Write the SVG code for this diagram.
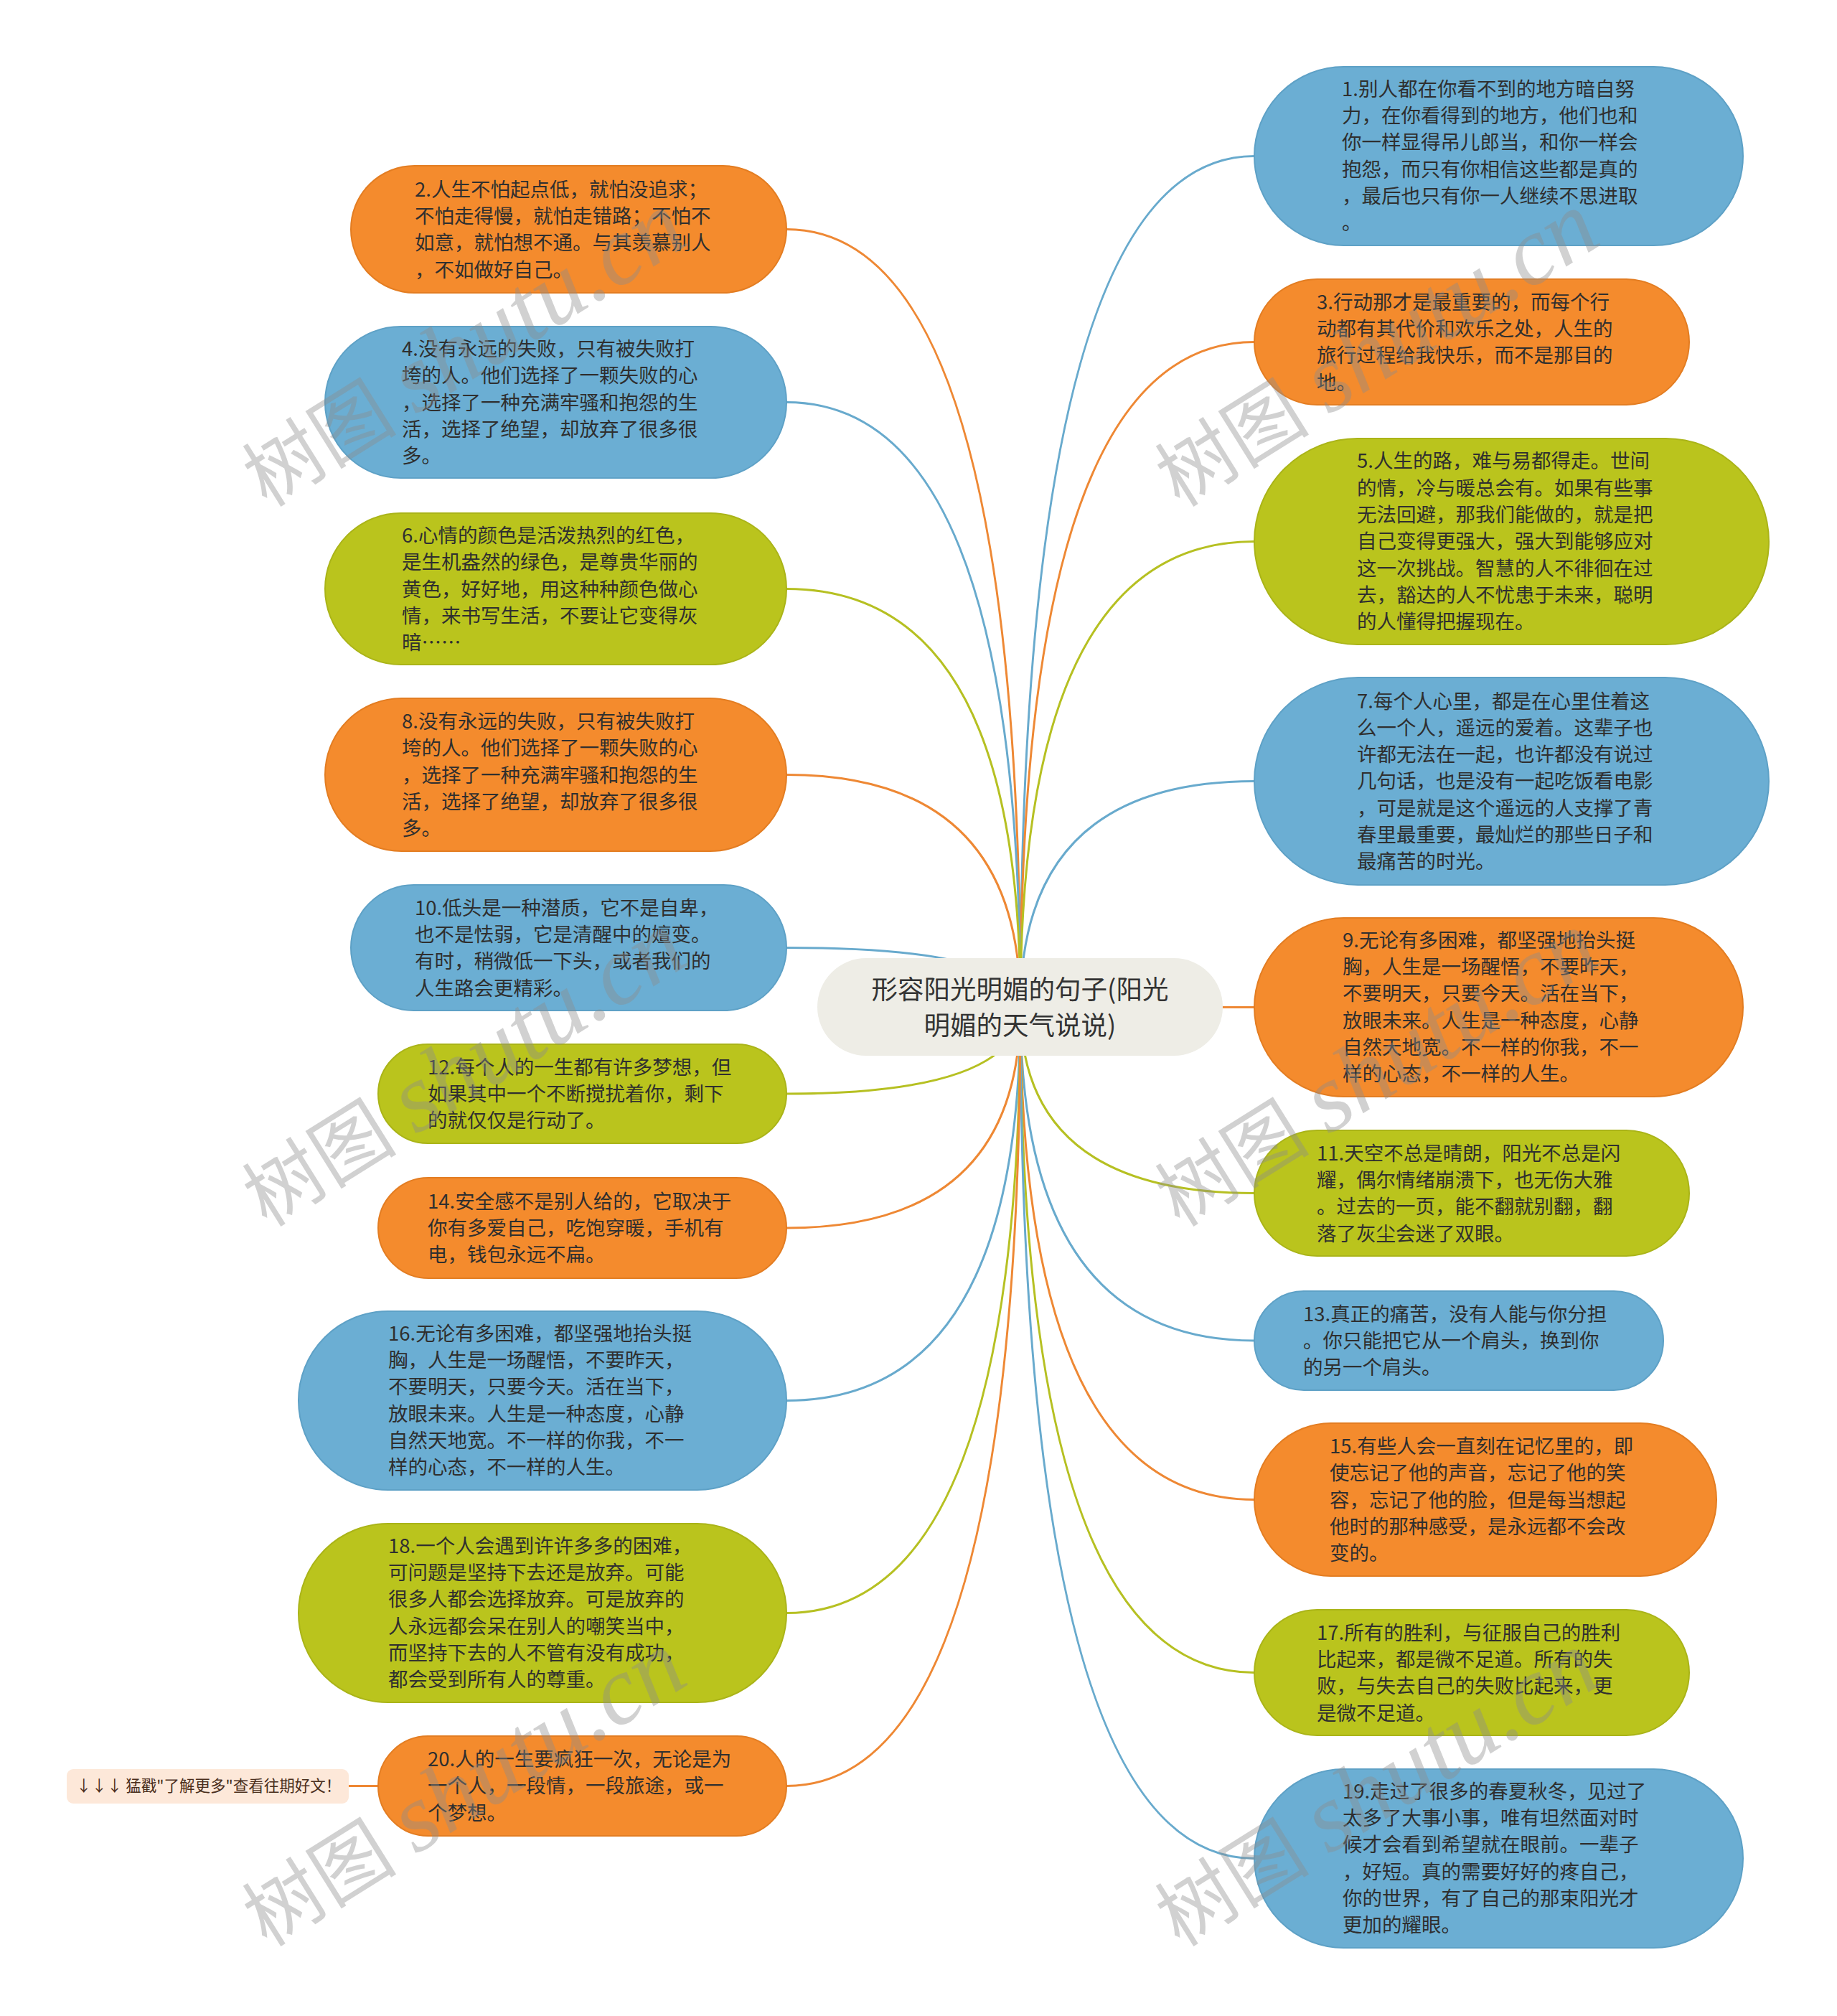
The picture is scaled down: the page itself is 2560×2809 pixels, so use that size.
<svg xmlns="http://www.w3.org/2000/svg" width="2560" height="2809" viewBox="0 0 2560 2809">
<style>
  .t { font-family: "Noto Sans CJK SC", "Noto Sans", sans-serif; font-size: 27.5px; fill: #2f2f2f; }
  .ct { font-family: "Noto Sans CJK SC", "Noto Sans", sans-serif; font-size: 36.5px; fill: #333333; text-anchor: middle; }
  .tag { font-family: "Noto Sans CJK SC", "Noto Sans", sans-serif; font-size: 21.5px; fill: #4a2e1c; }
  .o { fill: #F48B2D; stroke: #E37D22; stroke-width: 2; }
  .b { fill: #6BAED3; stroke: #5EA1C6; stroke-width: 2; }
  .g { fill: #BAC41D; stroke: #AAB418; stroke-width: 2; }
  .lo { fill: none; stroke: #EE8834; stroke-width: 3; }
  .lb { fill: none; stroke: #68AACD; stroke-width: 3; }
  .lg { fill: none; stroke: #B6C022; stroke-width: 3; }
  .wm1 { font-family: "Noto Sans CJK SC", sans-serif; font-size: 108px; }
  .wm2 { font-family: "Liberation Serif", serif; font-style: italic; font-size: 135px; }
</style>
<defs>
  <g id="wm" fill="#8c8c8c" fill-opacity="0.4">
    <text class="wm1" x="0" y="0">树图<tspan class="wm2" dx="28">shutu.cn</tspan></text>
  </g>
</defs>
<rect x="0" y="0" width="2560" height="2809" fill="#ffffff"/>

<g id="connectors">
  <path class="lb" d="M1422 1403 Q1422 217.5 1748 217.5"/>
  <path class="lo" d="M1422 1403 Q1422 319.5 1096 319.5"/>
  <path class="lo" d="M1422 1403 Q1422 476.5 1748 476.5"/>
  <path class="lb" d="M1422 1403 Q1422 560.5 1096 560.5"/>
  <path class="lg" d="M1422 1403 Q1422 754.5 1748 754.5"/>
  <path class="lg" d="M1422 1403 Q1422 820.5 1096 820.5"/>
  <path class="lb" d="M1422 1403 Q1422 1088.5 1748 1088.5"/>
  <path class="lo" d="M1422 1403 Q1422 1079.5 1096 1079.5"/>
  <path class="lo" d="M1422 1403 Q1422 1403.5 1748 1403.5"/>
  <path class="lb" d="M1422 1403 Q1422 1320.5 1096 1320.5"/>
  <path class="lg" d="M1422 1403 Q1422 1662.5 1748 1662.5"/>
  <path class="lg" d="M1422 1403 Q1422 1524 1096 1524"/>
  <path class="lb" d="M1422 1403 Q1422 1868 1748 1868"/>
  <path class="lo" d="M1422 1403 Q1422 1711 1096 1711"/>
  <path class="lo" d="M1422 1403 Q1422 2089.5 1748 2089.5"/>
  <path class="lb" d="M1422 1403 Q1422 1951.5 1096 1951.5"/>
  <path class="lg" d="M1422 1403 Q1422 2330.5 1748 2330.5"/>
  <path class="lg" d="M1422 1403 Q1422 2247.5 1096 2247.5"/>
  <path class="lb" d="M1422 1403 Q1422 2589.5 1748 2589.5"/>
  <path class="lo" d="M1422 1403 Q1422 2488.5 1096 2488.5"/>
  <path class="lo" d="M486 2488.5 L527 2488.5"/>
</g>

<g id="center">
  <rect x="1139" y="1335" width="565" height="136" rx="68" fill="#EEEDE6"/>
  <text class="ct" x="1421.5" y="1392">形容阳光明媚的句子(阳光</text>
  <text class="ct" x="1421.5" y="1442">明媚的天气说说)</text>
</g>

<g id="n1">
  <rect class="b" x="1748" y="93" width="681" height="249" rx="124.5"/>
  <text class="t" x="1870"><tspan x="1870" y="134">1.别人都在你看不到的地方暗自努</tspan><tspan x="1870" y="171">力，在你看得到的地方，他们也和</tspan><tspan x="1870" y="208">你一样显得吊儿郎当，和你一样会</tspan><tspan x="1870" y="246">抱怨，而只有你相信这些都是真的</tspan><tspan x="1870" y="283">，最后也只有你一人继续不思进取</tspan><tspan x="1870" y="320">。</tspan></text>
</g>
<g id="n2">
  <rect class="o" x="489" y="231" width="607" height="177" rx="88.5"/>
  <text class="t"><tspan x="578" y="274">2.人生不怕起点低，就怕没追求；</tspan><tspan x="578" y="311">不怕走得慢，就怕走错路；不怕不</tspan><tspan x="578" y="348">如意，就怕想不通。与其羡慕别人</tspan><tspan x="578" y="386">，不如做好自己。</tspan></text>
</g>
<g id="n3">
  <rect class="o" x="1748" y="389" width="606" height="175" rx="87.5"/>
  <text class="t"><tspan x="1835" y="431">3.行动那才是最重要的，而每个行</tspan><tspan x="1835" y="468">动都有其代价和欢乐之处，人生的</tspan><tspan x="1835" y="505">旅行过程给我快乐，而不是那目的</tspan><tspan x="1835" y="543">地。</tspan></text>
</g>
<g id="n4">
  <rect class="b" x="453" y="455" width="643" height="211" rx="105.5"/>
  <text class="t"><tspan x="560" y="496">4.没有永远的失败，只有被失败打</tspan><tspan x="560" y="533">垮的人。他们选择了一颗失败的心</tspan><tspan x="560" y="571">，选择了一种充满牢骚和抱怨的生</tspan><tspan x="560" y="608">活，选择了绝望，却放弃了很多很</tspan><tspan x="560" y="645">多。</tspan></text>
</g>
<g id="n5">
  <rect class="g" x="1748" y="611" width="717" height="287" rx="143.5"/>
  <text class="t"><tspan x="1891" y="652">5.人生的路，难与易都得走。世间</tspan><tspan x="1891" y="690">的情，冷与暖总会有。如果有些事</tspan><tspan x="1891" y="727">无法回避，那我们能做的，就是把</tspan><tspan x="1891" y="764">自己变得更强大，强大到能够应对</tspan><tspan x="1891" y="802">这一次挑战。智慧的人不徘徊在过</tspan><tspan x="1891" y="839">去，豁达的人不忧患于未来，聪明</tspan><tspan x="1891" y="876">的人懂得把握现在。</tspan></text>
</g>
<g id="n6">
  <rect class="g" x="453" y="715" width="643" height="211" rx="105.5"/>
  <text class="t"><tspan x="560" y="756">6.心情的颜色是活泼热烈的红色，</tspan><tspan x="560" y="793">是生机盎然的绿色，是尊贵华丽的</tspan><tspan x="560" y="831">黄色，好好地，用这种种颜色做心</tspan><tspan x="560" y="868">情，来书写生活，不要让它变得灰</tspan><tspan x="560" y="905">暗……</tspan></text>
</g>
<g id="n7">
  <rect class="b" x="1748" y="944" width="717" height="289" rx="144.5"/>
  <text class="t"><tspan x="1891" y="987">7.每个人心里，都是在心里住着这</tspan><tspan x="1891" y="1024">么一个人，遥远的爱着。这辈子也</tspan><tspan x="1891" y="1061">许都无法在一起，也许都没有说过</tspan><tspan x="1891" y="1098">几句话，也是没有一起吃饭看电影</tspan><tspan x="1891" y="1136">，可是就是这个遥远的人支撑了青</tspan><tspan x="1891" y="1173">春里最重要，最灿烂的那些日子和</tspan><tspan x="1891" y="1210">最痛苦的时光。</tspan></text>
</g>
<g id="n8">
  <rect class="o" x="453" y="973" width="643" height="213" rx="106.5"/>
  <text class="t"><tspan x="560" y="1015">8.没有永远的失败，只有被失败打</tspan><tspan x="560" y="1052">垮的人。他们选择了一颗失败的心</tspan><tspan x="560" y="1090">，选择了一种充满牢骚和抱怨的生</tspan><tspan x="560" y="1127">活，选择了绝望，却放弃了很多很</tspan><tspan x="560" y="1164">多。</tspan></text>
</g>
<g id="n9">
  <rect class="o" x="1748" y="1279" width="681" height="249" rx="124.5"/>
  <text class="t"><tspan x="1871" y="1320">9.无论有多困难，都坚强地抬头挺</tspan><tspan x="1871" y="1357">胸，人生是一场醒悟，不要昨天，</tspan><tspan x="1871" y="1394">不要明天，只要今天。活在当下，</tspan><tspan x="1871" y="1432">放眼未来。人生是一种态度，心静</tspan><tspan x="1871" y="1469">自然天地宽。不一样的你我，不一</tspan><tspan x="1871" y="1506">样的心态，不一样的人生。</tspan></text>
</g>
<g id="n10">
  <rect class="b" x="489" y="1233" width="607" height="175" rx="87.5"/>
  <text class="t"><tspan x="578" y="1275">10.低头是一种潜质，它不是自卑，</tspan><tspan x="578" y="1312">也不是怯弱，它是清醒中的嬗变。</tspan><tspan x="578" y="1349">有时，稍微低一下头，或者我们的</tspan><tspan x="578" y="1387">人生路会更精彩。</tspan></text>
</g>
<g id="n11">
  <rect class="g" x="1748" y="1575" width="606" height="175" rx="87.5"/>
  <text class="t"><tspan x="1835" y="1617">11.天空不总是晴朗，阳光不总是闪</tspan><tspan x="1835" y="1654">耀，偶尔情绪崩溃下，也无伤大雅</tspan><tspan x="1835" y="1691">。过去的一页，能不翻就别翻，翻</tspan><tspan x="1835" y="1729">落了灰尘会迷了双眼。</tspan></text>
</g>
<g id="n12">
  <rect class="g" x="527" y="1455" width="569" height="138" rx="69"/>
  <text class="t"><tspan x="596" y="1497">12.每个人的一生都有许多梦想，但</tspan><tspan x="596" y="1534">如果其中一个不断搅扰着你，剩下</tspan><tspan x="596" y="1571">的就仅仅是行动了。</tspan></text>
</g>
<g id="n13">
  <rect class="b" x="1748" y="1799" width="570" height="138" rx="69"/>
  <text class="t"><tspan x="1816" y="1841">13.真正的痛苦，没有人能与你分担</tspan><tspan x="1816" y="1878">。你只能把它从一个肩头，换到你</tspan><tspan x="1816" y="1915">的另一个肩头。</tspan></text>
</g>
<g id="n14">
  <rect class="o" x="527" y="1641" width="569" height="140" rx="70"/>
  <text class="t"><tspan x="596" y="1684">14.安全感不是别人给的，它取决于</tspan><tspan x="596" y="1721">你有多爱自己，吃饱穿暖，手机有</tspan><tspan x="596" y="1758">电，钱包永远不扁。</tspan></text>
</g>
<g id="n15">
  <rect class="o" x="1748" y="1983" width="644" height="213" rx="106.5"/>
  <text class="t"><tspan x="1853" y="2025">15.有些人会一直刻在记忆里的，即</tspan><tspan x="1853" y="2062">使忘记了他的声音，忘记了他的笑</tspan><tspan x="1853" y="2100">容，忘记了他的脸，但是每当想起</tspan><tspan x="1853" y="2137">他时的那种感受，是永远都不会改</tspan><tspan x="1853" y="2174">变的。</tspan></text>
</g>
<g id="n16">
  <rect class="b" x="416" y="1827" width="680" height="249" rx="124.5"/>
  <text class="t"><tspan x="541" y="1868">16.无论有多困难，都坚强地抬头挺</tspan><tspan x="541" y="1905">胸，人生是一场醒悟，不要昨天，</tspan><tspan x="541" y="1942">不要明天，只要今天。活在当下，</tspan><tspan x="541" y="1980">放眼未来。人生是一种态度，心静</tspan><tspan x="541" y="2017">自然天地宽。不一样的你我，不一</tspan><tspan x="541" y="2054">样的心态，不一样的人生。</tspan></text>
</g>
<g id="n17">
  <rect class="g" x="1748" y="2243" width="606" height="175" rx="87.5"/>
  <text class="t"><tspan x="1835" y="2285">17.所有的胜利，与征服自己的胜利</tspan><tspan x="1835" y="2322">比起来，都是微不足道。所有的失</tspan><tspan x="1835" y="2359">败，与失去自己的失败比起来，更</tspan><tspan x="1835" y="2397">是微不足道。</tspan></text>
</g>
<g id="n18">
  <rect class="g" x="416" y="2123" width="680" height="249" rx="124.5"/>
  <text class="t"><tspan x="541" y="2164">18.一个人会遇到许许多多的困难，</tspan><tspan x="541" y="2201">可问题是坚持下去还是放弃。可能</tspan><tspan x="541" y="2238">很多人都会选择放弃。可是放弃的</tspan><tspan x="541" y="2276">人永远都会呆在别人的嘲笑当中，</tspan><tspan x="541" y="2313">而坚持下去的人不管有没有成功，</tspan><tspan x="541" y="2350">都会受到所有人的尊重。</tspan></text>
</g>
<g id="n19">
  <rect class="b" x="1748" y="2465" width="681" height="249" rx="124.5"/>
  <text class="t"><tspan x="1871" y="2506">19.走过了很多的春夏秋冬，见过了</tspan><tspan x="1871" y="2543">太多了大事小事，唯有坦然面对时</tspan><tspan x="1871" y="2580">候才会看到希望就在眼前。一辈子</tspan><tspan x="1871" y="2618">，好短。真的需要好好的疼自己，</tspan><tspan x="1871" y="2655">你的世界，有了自己的那束阳光才</tspan><tspan x="1871" y="2692">更加的耀眼。</tspan></text>
</g>
<g id="n20">
  <rect class="o" x="527" y="2419" width="569" height="139" rx="69.5"/>
  <text class="t"><tspan x="596" y="2461">20.人的一生要疯狂一次，无论是为</tspan><tspan x="596" y="2498">一个人，一段情，一段旅途，或一</tspan><tspan x="596" y="2536">个梦想。</tspan></text>
</g>
<g id="tag">
  <rect x="93" y="2465" width="393" height="48" rx="9" fill="#FDE8D9"/>
  <text class="tag" x="106" y="2496">↓↓↓ 猛戳"了解更多"查看往期好文！</text>
</g>

<g id="watermarks">
  <use href="#wm" transform="translate(372 708) rotate(-32)"/>
  <use href="#wm" transform="translate(1644 708) rotate(-32)"/>
  <use href="#wm" transform="translate(372 1711) rotate(-32)"/>
  <use href="#wm" transform="translate(1644 1711) rotate(-32)"/>
  <use href="#wm" transform="translate(372 2714) rotate(-32)"/>
  <use href="#wm" transform="translate(1644 2714) rotate(-32)"/>
</g>
</svg>
